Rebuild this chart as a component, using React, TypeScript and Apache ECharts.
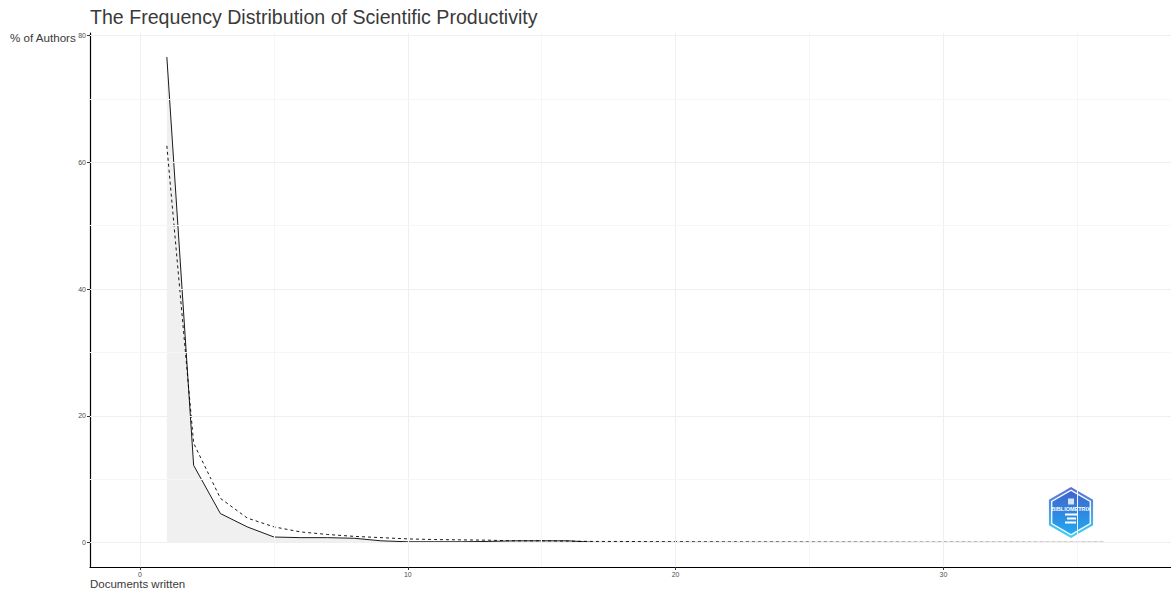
import React, { useEffect, useRef } from "react";
import * as echarts from "echarts";

const docsWritten = [1,2,3,4,5,6,7,8,9,10,11,12,13,14,15,16,17,18,19,20,21,22,23,24,25,26,27,28,29,30,31,32,33,34,35,36];
const observedPct = [76.6,12.2,4.6,2.5,0.9,0.8,0.8,0.7,0.3,0.15,0.15,0.15,0.2,0.3,0.3,0.3,0.05,0.05,0.05,0.05,0.05,0.05,0.05,0.05,0.05,0.05,0.05,0.05,0.05,0.05,0.05,0.05,0.05,0.05,0.05,0.05];
const theoreticalPct = [62.6,15.7,7.0,3.9,2.5,1.7,1.3,1.0,0.8,0.6,0.5,0.45,0.4,0.3,0.3,0.25,0.2,0.2,0.17,0.16,0.14,0.13,0.12,0.11,0.1,0.09,0.09,0.08,0.07,0.07,0.07,0.06,0.06,0.05,0.05,0.05];
const xMajorTicks = [0, 10, 20, 30];
const xMinorTicks = [5, 15, 25, 35];
const yMajorTicks = [0, 20, 40, 60, 80];
const yMinorTicks = [10, 30, 50, 70];

const FONT = "'Liberation Sans', Arial, sans-serif";

export default function App() {
  const ref = useRef<HTMLDivElement>(null);
  useEffect(() => {
    if (!ref.current) return;
    const chart = echarts.init(ref.current, null, { renderer: "svg" });
    const obs = docsWritten.map((x, i) => [x, observedPct[i]]);
    const theo = docsWritten.map((x, i) => [x, theoreticalPct[i]]);
    const gridMarks = [
      ...xMajorTicks.map((v) => ({ xAxis: v, lineStyle: { color: "#efefef", width: 1, type: "solid" } })),
      ...xMinorTicks.map((v) => ({ xAxis: v, lineStyle: { color: "#f6f6f6", width: 1, type: "solid" } })),
      ...yMajorTicks.map((v) => ({ yAxis: v, lineStyle: { color: "#efefef", width: 1, type: "solid" } })),
      ...yMinorTicks.map((v) => ({ yAxis: v, lineStyle: { color: "#f6f6f6", width: 1, type: "solid" } })),
    ];
    const cx = 1071, cy = 512.5, R = 25.5;
    const hex = (r: number) =>
      [0, 1, 2, 3, 4, 5].map((k) => {
        const a = (Math.PI / 180) * (60 * k - 90);
        return [cx + r * Math.cos(a), cy + r * Math.sin(a)];
      });
    chart.setOption({
      animation: false,
      backgroundColor: "#ffffff",
      title: {
        text: "The Frequency Distribution of Scientific Productivity",
        left: 85,
        top: 2,
        textStyle: { fontFamily: FONT, fontSize: 19.6, fontWeight: "normal", color: "#3a3a3a" },
      },
      grid: { left: 90, right: 0, top: 33, bottom: 25, containLabel: false },
      xAxis: {
        type: "value",
        min: -1.87,
        max: 38.5,
        axisLine: { show: true, onZero: false, lineStyle: { color: "#000000", width: 1.2 } },
        axisTick: { show: true, customValues: xMajorTicks, length: 3, lineStyle: { color: "#333333" } },
        axisLabel: { customValues: xMajorTicks, fontSize: 7, color: "#4d4d4d", fontFamily: FONT, margin: 4 },
        splitLine: { show: false },
      },
      yAxis: {
        type: "value",
        min: -3.83,
        max: 80.4,
        axisLine: { show: true, onZero: false, lineStyle: { color: "#000000", width: 1.2 } },
        axisTick: { show: true, customValues: yMajorTicks, length: 3, lineStyle: { color: "#333333" } },
        axisLabel: { customValues: yMajorTicks, fontSize: 7, color: "#4d4d4d", fontFamily: FONT, margin: 4 },
        splitLine: { show: false },
      },
      series: [
        {
          type: "line",
          name: "grid",
          data: [],
          silent: true,
          z: 0,
          markLine: { silent: true, symbol: "none", label: { show: false }, data: gridMarks, animation: false },
        },
        {
          type: "line",
          name: "Observed",
          data: obs,
          showSymbol: false,
          symbol: "none",
          lineStyle: { color: "#000000", width: 0.9 },
          areaStyle: { color: "#f0f0f0", opacity: 1, origin: 0 },
          z: 3,
        },
        {
          type: "line",
          name: "Theoretical",
          data: theo,
          showSymbol: false,
          symbol: "none",
          lineStyle: { color: "#000000", width: 0.9, type: [3, 3] },
          z: 4,
        },
      ],
      graphic: [
        { type: "text", left: 10, top: 31, style: { text: "% of Authors", fontSize: 11.6, fontFamily: FONT, fill: "#3a3a3a" } },
        { type: "text", left: 90, top: 578, style: { text: "Documents written", fontSize: 11.5, fontFamily: FONT, fill: "#3a3a3a" } },
        {
          type: "group",
          z: 100,
          children: [
            {
              type: "polygon",
              shape: { points: hex(R) },
              style: {
                fill: new echarts.graphic.LinearGradient(0, 0, 0, 1, [
                  { offset: 0, color: "#5a6fd6" },
                  { offset: 1, color: "#3fd3f8" },
                ]),
              },
            },
            { type: "polygon", shape: { points: hex(R - 2.5) }, style: { fill: "#ffffff" } },
            {
              type: "polygon",
              shape: { points: hex(R - 4) },
              style: {
                fill: new echarts.graphic.LinearGradient(0, 0, 0, 1, [
                  { offset: 0, color: "#3f64cf" },
                  { offset: 1, color: "#22a9f0" },
                ]),
              },
            },
            {
              type: "text",
              x: cx,
              y: cy - 4,
              style: { text: "BIBLIOMETRIX", fontSize: 5.5, fontWeight: "bold", fontFamily: FONT, fill: "#ffffff", align: "center", verticalAlign: "middle" },
            },
            { type: "rect", shape: { x: cx - 3, y: cy - 14, width: 6, height: 6 }, style: { fill: "#ffffff", opacity: 0.8 } },
            { type: "rect", shape: { x: cx - 6, y: cy + 1, width: 12, height: 2 }, style: { fill: "#ffffff" } },
            { type: "rect", shape: { x: cx - 4, y: cy + 5, width: 9, height: 2 }, style: { fill: "#ffffff" } },
            { type: "rect", shape: { x: cx - 6, y: cy + 9, width: 11, height: 2 }, style: { fill: "#ffffff" } },
          ],
        },
      ],
    });
    return () => chart.dispose();
  }, []);
  return (
    <div
      ref={ref}
      style={{ position: "fixed", left: 0, top: 0, width: 1171, height: 592, background: "#fff" }}
    />
  );
}
